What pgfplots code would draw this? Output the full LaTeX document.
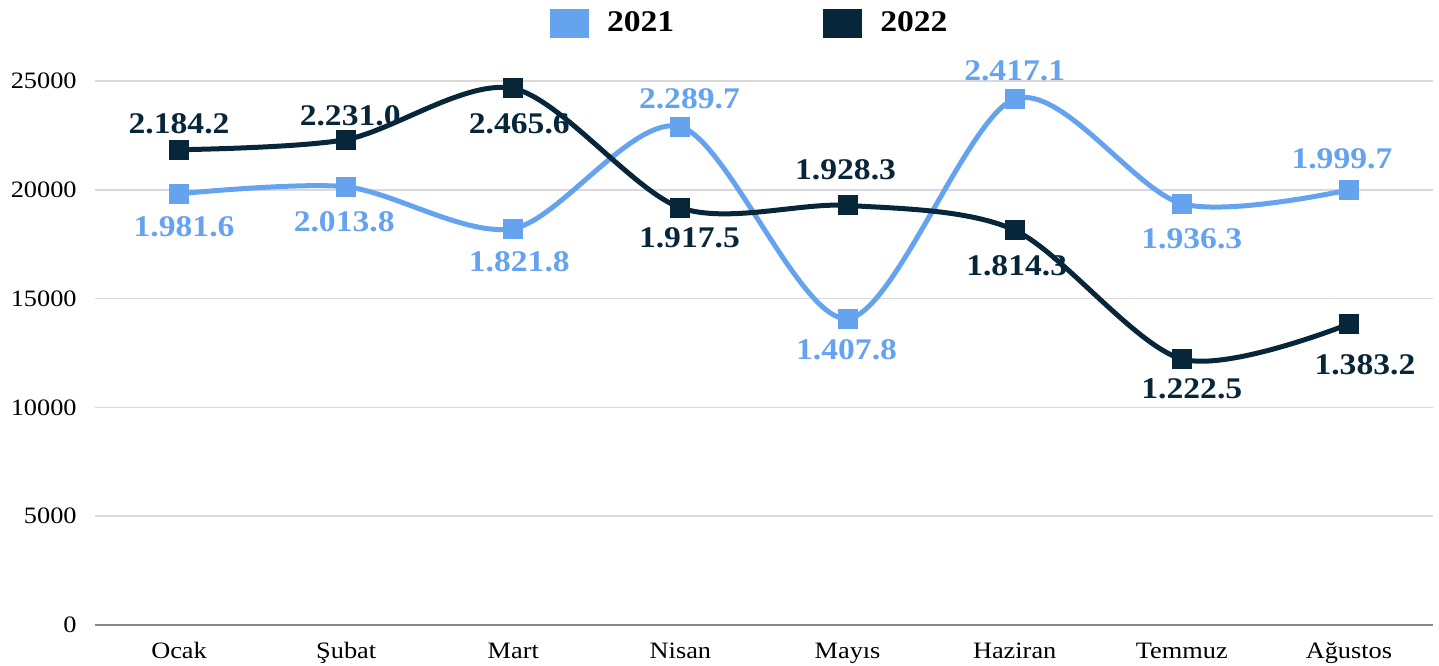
\documentclass[border=0pt]{standalone}
\usepackage{fontspec}
\setmainfont{Liberation Serif}[FakeStretch=1.12]
\usepackage{pgfplots}
\usepackage{pgfplotstable}
\pgfplotsset{compat=1.18}
\definecolor{c21}{RGB}{102,163,239}
\definecolor{c22}{RGB}{7,38,58}
\definecolor{gridc}{RGB}{217,217,217}
\definecolor{axc}{RGB}{134,134,134}

\pgfplotstableread{
x y lab dx dy
0 19816 1.981.6 2.5 -16.5
1 20138 2.013.8 -1 -17.5
2 18218 1.821.8 3 -16.5
3 22897 2.289.7 4.5 14
4 14078 1.407.8 -0.5 -15.5
5 24171 2.417.1 0 14
6 19363 1.936.3 5 -17.5
7 19997 1.999.7 -3.5 15.5
}\tA

\pgfplotstableread{
x y lab dx dy
0 21842 2.184.2 0 13
1 22310 2.231.0 2 12
2 24656 2.465.6 3 -17.5
3 19175 1.917.5 4.5 -15
4 19283 1.928.3 -1 18
5 18143 1.814.3 1 -18
6 12225 1.222.5 5 -15
7 13832 1.383.2 8 -20.5
}\tB

\begin{document}
\begin{tikzpicture}
\begin{axis}[
  name=ax,
  scale only axis,
  width=668.5pt, height=272pt,
  xmin=-0.5, xmax=7.5,
  ymin=0, ymax=25000,
  clip=false,
  axis line style={draw=none},
  major tick length=0pt,
  scaled y ticks=false,
  xtick={0,1,2,3,4,5,6,7},
  xticklabels={Ocak,Şubat,Mart,Nisan,Mayıs,Haziran,Temmuz,Ağustos},
  ytick={0,5000,10000,15000,20000,25000},
  yticklabels={0,5000,10000,15000,20000,25000},
  ymajorgrids,
  major grid style={draw=gridc, line width=0.75pt},
  extra y ticks={0},
  extra y tick labels={},
  extra y tick style={grid=major, major grid style={draw=axc, line width=0.75pt}},
  xticklabel style={font=\fontsize{11.75}{14}\selectfont, anchor=base, yshift=-16.5pt, inner sep=0pt},
  yticklabel style={font=\fontsize{11.75}{14}\selectfont, anchor=east, inner sep=0pt, xshift=-9.25pt},
  legend style={draw=none, fill=none, at={(axis description cs:0.34,1.1066)}, anchor=west,
    inner sep=0pt, outer sep=0pt, nodes={inner sep=0pt},
    font=\fontsize{15}{18}\selectfont\bfseries, text=black,
    legend columns=2,
    /tikz/every odd column/.append style={column sep=9pt},
    /tikz/every even column/.append style={column sep=74.5pt}},
]
\addplot[color=c21, line width=2.5pt, smooth, tension=0.5, mark=square*, mark size=4.75pt,
  mark options={solid, line width=0pt, fill=c21, draw=c21},
  point meta=explicit symbolic,
  nodes near coords={\pgfplotspointmeta},
  visualization depends on={\thisrow{dx}\as\lx},
  visualization depends on={\thisrow{dy}\as\ly},
  nodes near coords style={anchor=center, inner sep=0pt, xshift=\lx pt, yshift=\ly pt, font=\fontsize{15}{18}\selectfont\bfseries, text=c21},
  legend image code/.code={\path[fill=c21, draw=none] (0pt,-7.25pt) rectangle (19.5pt,7.25pt);}]
  table[x=x, y=y, meta=lab] {\tA};
\addlegendentry{2021}
\addplot[color=c22, line width=2.5pt, smooth, tension=0.5, mark=square*, mark size=4.75pt,
  mark options={solid, line width=0pt, fill=c22, draw=c22},
  point meta=explicit symbolic,
  nodes near coords={\pgfplotspointmeta},
  visualization depends on={\thisrow{dx}\as\lx},
  visualization depends on={\thisrow{dy}\as\ly},
  nodes near coords style={anchor=center, inner sep=0pt, xshift=\lx pt, yshift=\ly pt, font=\fontsize{15}{18}\selectfont\bfseries, text=c22},
  legend image code/.code={\path[fill=c22, draw=none] (0pt,-7.25pt) rectangle (19.5pt,7.25pt);}]
  table[x=x, y=y, meta=lab] {\tB};
\addlegendentry{2022}
\end{axis}
\pgfresetboundingbox
\useasboundingbox ([shift={(-47.75pt,-20pt)}]ax.south west) rectangle ([shift={(3.25pt,40.5pt)}]ax.north east);
\end{tikzpicture}
\end{document}
